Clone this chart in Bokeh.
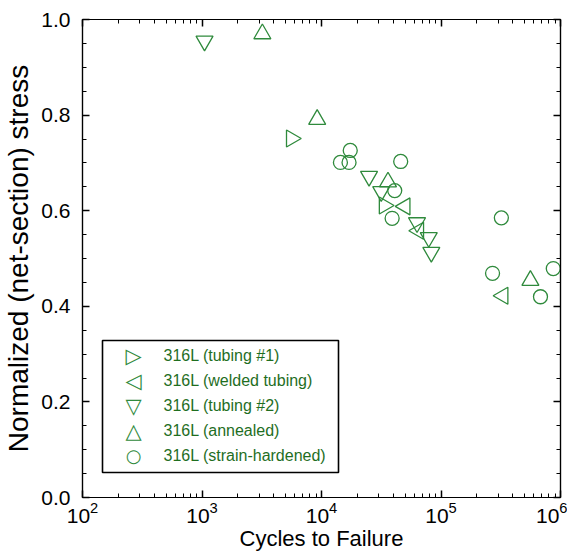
from bokeh.plotting import figure
from bokeh.models import (LogAxis, LinearAxis, LogTicker, SingleIntervalTicker,
                          PrintfTickFormatter, Range1d, Label, BoxAnnotation)
from bokeh.embed import file_html
from bokeh.resources import INLINE

# ---- data (cycles to failure, normalized net-section stress) ----
tub1_n = [5600, 33500]
tub1_s = [0.751, 0.611]

weld_n = [50000, 65000, 330000]
weld_s = [0.609, 0.558, 0.422]

tub2_n = [1050, 25000, 31600, 63000, 79000, 83000]
tub2_s = [0.955, 0.672, 0.640, 0.575, 0.544, 0.513]

ann_n = [3200, 9200, 36000, 560000]
ann_s = [0.970, 0.791, 0.660, 0.454]

sh_n = [17400, 14400, 17000, 46000, 41000, 39000, 320000, 270000, 680000, 870000]
sh_s = [0.726, 0.701, 0.701, 0.703, 0.642, 0.584, 0.585, 0.469, 0.420, 0.479]

labels = ["316L (tubing #1)", "316L (welded tubing)", "316L (tubing #2)",
          "316L (annealed)", "316L (strain-hardened)"]
symbols = ["\u25B7", "\u25C1", "\u25BD", "\u25B3", "\u25CB"]

GREEN = "#2f8a3c"
TEXT_GREEN = "#1f6e1f"
FONT = "Liberation Sans"

p = figure(width=567, height=544, x_axis_type="log", output_backend="svg",
           toolbar_location=None, x_range=Range1d(1e2, 1e6), y_range=Range1d(0, 1.0),
           frame_width=478, frame_height=478,
           min_border_left=82, min_border_top=19, min_border_right=7, min_border_bottom=8)
p.grid.visible = False
p.outline_line_color = "black"
p.outline_line_width = 1.2
p.background_fill_color = "white"
p.border_fill_color = "white"

xt = LogTicker(num_minor_ticks=10)
yt = SingleIntervalTicker(interval=0.2, num_minor_ticks=4)

def style(ax, labels_on=True):
    ax.axis_line_color = "black"
    ax.axis_line_width = 1.2
    ax.major_tick_in = 7
    ax.major_tick_out = 0
    ax.minor_tick_in = 4
    ax.minor_tick_out = 0
    ax.major_tick_line_color = "black"
    ax.minor_tick_line_color = "black"
    ax.major_tick_line_width = 1.5
    ax.minor_tick_line_width = 1
    ax.major_label_text_font = FONT
    ax.major_label_text_font_size = "21px" if labels_on else "2px"
    ax.major_label_text_color = "black"
    if not labels_on:
        ax.major_label_text_alpha = 0
    ax.axis_label_text_font = FONT
    ax.axis_label_text_font_size = "22px"
    ax.axis_label_text_font_style = "normal"
    ax.axis_label_text_color = "black"

p.xaxis.ticker = xt
p.yaxis.ticker = yt
p.yaxis.formatter = PrintfTickFormatter(format="%.1f")
style(p.xaxis[0])
style(p.yaxis[0])
p.xaxis.axis_label = "Cycles to Failure"
p.yaxis.axis_label = "Normalized (net-section) stress"
p.yaxis.axis_label_text_font_size = "28px"
p.xaxis.major_label_standoff = 4
p.xaxis.axis_label_standoff = 0
p.yaxis.major_label_standoff = 12
p.yaxis.axis_label_standoff = 4

top = LogAxis(ticker=LogTicker(num_minor_ticks=10))
style(top, False)
top.major_label_standoff = 0
p.add_layout(top, "above")
right = LinearAxis(ticker=SingleIntervalTicker(interval=0.2, num_minor_ticks=4))
style(right, False)
right.major_label_standoff = 0
p.add_layout(right, "right")

kw = dict(fill_color=None, line_color=GREEN, line_width=1.3, size=17)
p.scatter(tub1_n, tub1_s, marker="triangle", angle=-1.5708, **kw)
p.scatter(weld_n, weld_s, marker="triangle", angle=1.5708, **kw)
p.scatter(tub2_n, tub2_s, marker="inverted_triangle", **kw)
p.scatter(ann_n, ann_s, marker="triangle", **kw)
p.scatter(sh_n, sh_s, marker="circle", fill_color=None, line_color=GREEN,
          line_width=1.3, size=14)

# legend box (screen units, relative to the plot frame)
p.add_layout(BoxAnnotation(left=20, right=256, bottom=25, top=157,
                           left_units="screen", right_units="screen",
                           bottom_units="screen", top_units="screen",
                           fill_color="white", fill_alpha=1.0,
                           line_color="black", line_alpha=1.0, line_width=1.6))
for i, (sym, lab) in enumerate(zip(symbols, labels)):
    yy = 142 - 25 * i
    p.add_layout(Label(x=51, y=yy, x_units="screen", y_units="screen", text=sym,
                       text_font="DejaVu Sans",
                       text_font_size="18px" if i == 4 else "21px",
                       text_color=GREEN, text_align="center", text_baseline="middle"))
    p.add_layout(Label(x=81, y=yy, x_units="screen", y_units="screen", text=lab,
                       text_font=FONT, text_font_size="16px", text_color=TEXT_GREEN,
                       text_align="left", text_baseline="middle"))

open("out.html", "w").write(file_html(p, INLINE))
